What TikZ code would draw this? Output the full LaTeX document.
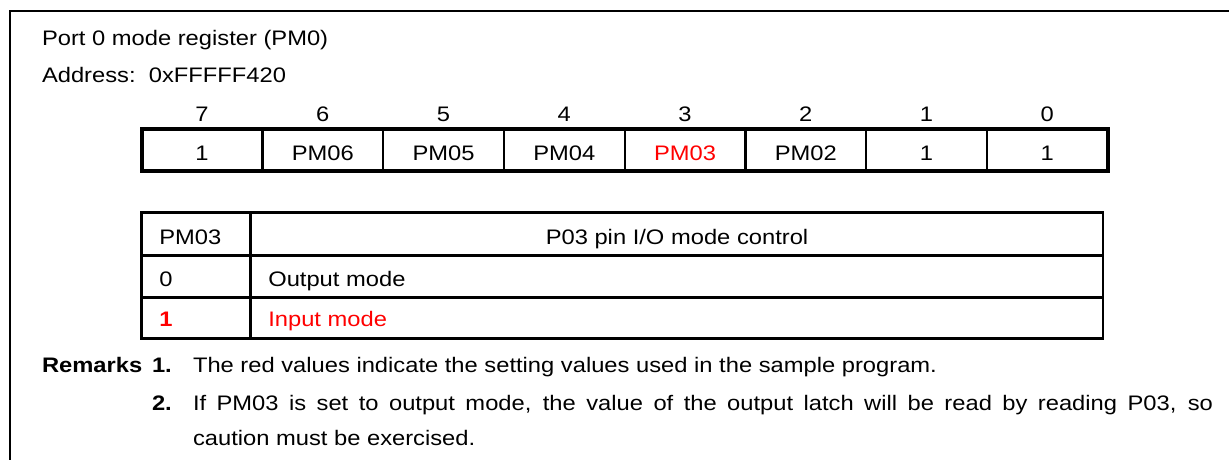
\documentclass[tikz,border=0pt]{standalone}
\usepackage{fontspec}
\setmainfont{Liberation Sans}[FakeStretch=1.13]
\begin{document}
\begin{tikzpicture}[x=1pt,y=-1pt,
  every node/.style={inner sep=0pt, outer sep=0pt, font=\fontsize{21}{25}\selectfont},
  txt/.style={anchor=base west},
  ctr/.style={anchor=base},
  hot/.style={text=red},
  frameline/.style={line width=2pt},
  regouter/.style={line width=3.6pt},
  reginner/.style={line width=2.3pt},
  tabline/.style={line width=2.7pt}]
\useasboundingbox (0,0) rectangle (1229,459);

% open frame: top and left edges only
\draw[frameline] (10,470) -- (10,11) -- (1240,11);

% heading
\node[txt] (title) at (42,45.7) {Port 0 mode register (PM0)};
\node[txt] (addr) at (42,82) {Address:\ \ 0xFFFFF420};

% register bit layout
\foreach \i/\b/\t/\c in {0/7/1/black,1/6/PM06/black,2/5/PM05/black,3/4/PM04/black,
                         4/3/PM03/red,5/2/PM02/black,6/1/1/black,7/0/1/black}{
  \node[ctr] (bit\b) at ({141.7+(\i+0.5)*120.75},121.7) {\b};
  \node[ctr,text=\c] (cell\b) at ({141.7+(\i+0.5)*120.75},160.5) {\t};
}
\foreach \i in {1,...,7}
  \draw[reginner] ({141.7+\i*120.75},128.7) -- ({141.7+\i*120.75},170.8);
\draw[regouter] (141.7,128.7) rectangle (1107.7,170.8);

% PM03 setting table
\draw[tabline] (141.7,255.2) -- (1103,255.2);
\draw[tabline] (141.7,297.8) -- (1103,297.8);
\draw[tabline] (250.7,212.5) -- (250.7,338.8);
\draw[tabline] (141.7,212.5) rectangle (1103,338.8);

\node[txt] (hbit) at (159.3,244) {PM03};
\node[ctr] (hdesc) at (677,244) {P03 pin I/O mode control};
\node[txt] (val0) at (159.3,286) {0};
\node[txt] (desc0) at (268.3,286) {Output mode};
\node[txt,hot] (val1) at (159.3,326.7) {\bfseries 1};
\node[txt,hot] (desc1) at (268.3,326.7) {Input mode};

% remarks
\node[txt] (rem) at (42,372.5) {\bfseries Remarks};
\node[txt] (num1) at (152,372.5) {\bfseries 1.};
\node[txt] (rem1) at (193,372.5) {The red values indicate the setting values used in the sample program.};
\node[txt] (num2) at (152,410) {\bfseries 2.};
\node[txt] (rem2) at (193,410) {\makebox[1020pt][s]{If PM03 is set to output mode, the value of the output latch will be read by reading P03, so}};
\node[txt] (rem3) at (193,445) {caution must be exercised.};
\end{tikzpicture}
\end{document}
